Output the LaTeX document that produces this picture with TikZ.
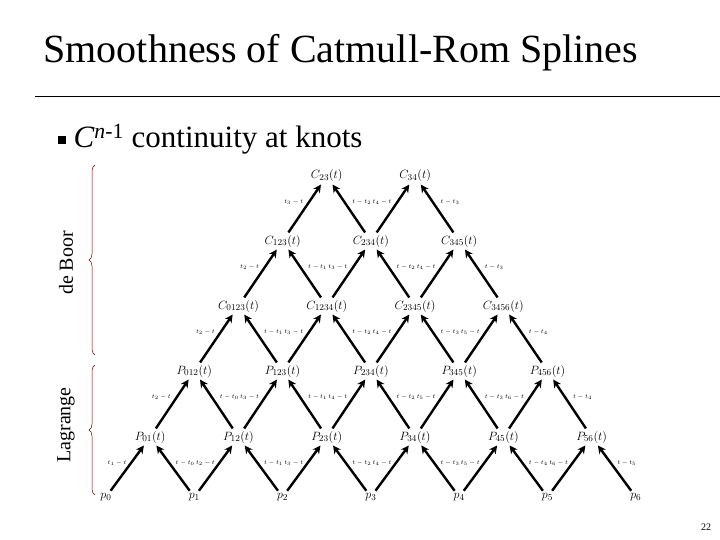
\documentclass[tikz,border=0pt]{standalone}
\usepackage{fontspec}
\setmainfont{Liberation Serif}
\usetikzlibrary{arrows.meta,decorations.pathreplacing}
\begin{document}
\begin{tikzpicture}[x=1pt,y=-1pt,
  nd/.style={inner sep=1.5pt,font=\fontsize{13}{13}\selectfont},
  ar/.style={-{Stealth[length=8pt,width=8pt]},line width=2.4pt,shorten >=1pt,shorten <=1pt},
  wl/.style={font=\fontsize{6}{6}\selectfont,inner sep=0pt},
  br/.style={decorate,decoration={brace,amplitude=6pt},draw=red!40!black,line width=0.5pt}]
\useasboundingbox (0,0) rectangle (720,540);
\node[anchor=west,font=\fontsize{40}{40}\selectfont] (title) at (40,53) {Smoothness of Catmull-Rom Splines};
\draw[line width=0.8pt] (35,96) -- (720,96);
\node[fill=black,minimum size=8pt,inner sep=0pt] (bul) at (62,140) {};
\node[anchor=west,font=\fontsize{31}{31}\selectfont] (sub) at (70,139) {\textit{C}\textsuperscript{\textit{n}-1} continuity at knots};
\node[rotate=90,font=\fontsize{20}{20}\selectfont] (db) at (66,263) {de Boor};
\node[rotate=90,font=\fontsize{20}{20}\selectfont] (lg) at (66,425) {Lagrange};
\draw[br] (95,355) -- (95,165);
\draw[br] (95,495) -- (95,365);
\node[font=\fontsize{10}{10}\selectfont] (pg) at (706,527) {22};
\def\ys{{497,437,371,306,241,176}}
\foreach \k/\lst in {0/{p_0,p_1,p_2,p_3,p_4,p_5,p_6},
  1/{P_{01}(t),P_{12}(t),P_{23}(t),P_{34}(t),P_{45}(t),P_{56}(t)},
  2/{P_{012}(t),P_{123}(t),P_{234}(t),P_{345}(t),P_{456}(t)},
  3/{C_{0123}(t),C_{1234}(t),C_{2345}(t),C_{3456}(t)},
  4/{C_{123}(t),C_{234}(t),C_{345}(t)},
  5/{C_{23}(t),C_{34}(t)}}{
  \foreach \t [count=\c from 0] in \lst {
    \pgfmathsetmacro{\xx}{106+88.3*\c+44.15*\k}
    \pgfmathsetmacro{\yy}{\ys[\k]}
    \node[nd] (n-\k-\c) at (\xx,\yy) {$\t$};
  }}
\foreach \k/\j/\L/\R in {
 1/0/t_1-t/t-t_0, 1/1/t_2-t/t-t_1, 1/2/t_3-t/t-t_2, 1/3/t_4-t/t-t_3, 1/4/t_5-t/t-t_4, 1/5/t_6-t/t-t_5,
 2/0/t_2-t/t-t_0, 2/1/t_3-t/t-t_1, 2/2/t_4-t/t-t_2, 2/3/t_5-t/t-t_3, 2/4/t_6-t/t-t_4,
 3/0/t_2-t/t-t_1, 3/1/t_3-t/t-t_2, 3/2/t_4-t/t-t_3, 3/3/t_5-t/t-t_4,
 4/0/t_2-t/t-t_1, 4/1/t_3-t/t-t_2, 4/2/t_4-t/t-t_3,
 5/0/t_3-t/t-t_2, 5/1/t_4-t/t-t_3}{
  \pgfmathtruncatemacro{\km}{\k-1}
  \pgfmathtruncatemacro{\jp}{\j+1}
  \draw[ar] (n-\km-\j) -- (n-\k-\j);
  \draw[ar] (n-\km-\jp) -- (n-\k-\j);
  \node[wl] (wl-\k-\j) at ([shift={(-33,26)}]n-\k-\j.center) {$\L$};
  \node[wl] (wr-\k-\j) at ([shift={(35,26)}]n-\k-\j.center) {$\R$};
}
\end{tikzpicture}
\end{document}
